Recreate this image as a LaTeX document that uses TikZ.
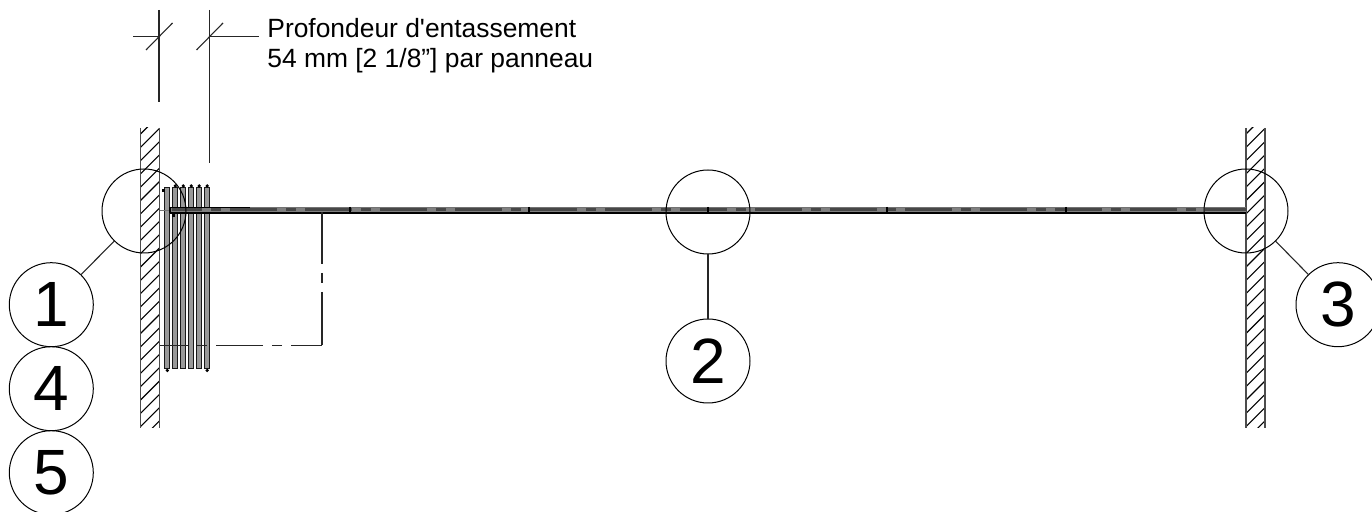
\documentclass[tikz,border=0pt]{standalone}
\usepackage{fontspec}
\setmainfont{Liberation Sans}
\newfontfamily\labelfont{Liberation Sans}
\usetikzlibrary{positioning}
\tikzset{
  bubble/.style={draw, circle, minimum size=42pt, inner sep=0pt, outer sep=0pt, line width=0.5pt, font=\fontsize{32}{32}\selectfont},
  detail/.style={draw, circle, minimum size=42pt, inner sep=0pt, outer sep=0pt, line width=0.5pt},
  thinline/.style={line width=0.55pt, black!85},
  swing/.style={line width=0.6pt, black!85},
  dimlabel/.style={anchor=base west, inner sep=0pt, font=\labelfont\fontsize{13.2}{15}\selectfont},
}
\begin{document}
\begin{tikzpicture}[x=0.5pt, y=-0.5pt]
  \useasboundingbox (0,0) rectangle (1372,512);
  % Parameters
  \def\wallw{19}
  \def\wtop{128}
  \def\wbot{428}
  \def\py{210.5}

  % --- Murs ---
  \foreach \wx in {140.5, 1246} {
      \begin{scope}
        \clip (\wx,\wtop) rectangle (\wx+\wallw,\wbot);
        \foreach \k in {0,...,24} {
            \draw[line width=0.55pt, black] (\wx,\wtop+6+13.3*\k) -- ++(\wallw,-\wallw);
          }
      \end{scope}
      \draw[line width=0.6pt, black!70] (\wx,\wtop) -- (\wx,\wbot) (\wx+\wallw,\wtop) -- (\wx+\wallw,\wbot);
    }

  % --- Panneaux entasses ---
  \foreach \x in {167.3, 175.3, 183.3, 191.3, 199.2, 207.2} {
      \draw[line width=0.5pt, black!90, fill=black!40] (\x-2.6,187.5) rectangle (\x+2.6,368.5);
    }
  \foreach \x in {175.3, 183.3, 191.3, 199.2, 207.2} {
      \fill (\x,186) circle (1.8);
    }
  \fill (167.3,370.5) circle (1.8);
  \fill (207.2,370.5) circle (1.8);
  \fill (162,189) rectangle (165,192);
  \fill (172,214) rectangle (175,217);

  % --- Panneaux fermes ---
  \draw[line width=0.6pt, black!55] (159.5,\py) -- (170,\py);
  \fill[black!50] (170,207.5) rectangle (1246,213);
  \draw[line width=0.6pt, black!55] (170,207.5) -- (1246,207.5);
  \draw[line width=1pt, black] (170,213) -- (1246,213);
  \draw[line width=0.7pt, black] (250,207.5) -- (170,207.5) -- (170,213);
  \draw[line width=1.5pt, black!72, dash pattern=on 23.5pt off 4.5pt on 5pt off 4.5pt, dash phase=8.5pt] (172,210) -- (1246,210);
  \foreach \x in {350, 529, 708, 887, 1066} {
      \draw[line width=0.9pt, black] (\x,207) -- (\x,214);
    }

  % --- Debattement ---
  \coordinate (swingtop) at (322,212);
  \coordinate (corner) at (322,345.5);
  \coordinate (swingend) at (159.5,345.5);
  \draw[swing, dash pattern=on 26pt off 4.5pt on 5pt off 4.5pt on 100pt] (swingtop) -- (corner);
  \draw[swing, dash pattern=on 15.5pt off 4.5pt on 5pt off 4.5pt on 23.5pt off 4.5pt on 5pt off 4.5pt on 100pt] (corner) -- (swingend);

  % --- Cotes ---
  \coordinate (dimtop1) at (159,10);
  \coordinate (dimbot1) at (159,102);
  \coordinate (dimtop2) at (209.5,10);
  \coordinate (dimbot2) at (209.5,163);
  \coordinate (dimend1) at (133,36.5);
  \coordinate (dimend2) at (259,36.5);
  \draw[thinline] (dimtop1) -- (dimbot1);
  \draw[thinline] (dimtop2) -- (dimbot2);
  \draw[thinline] (dimend1) -- (dimtop1 |- dimend1);
  \draw[thinline] (dimtop2 |- dimend2) -- (dimend2);
  \draw[thinline] (146,50) -- (172.5,23);
  \draw[thinline] (196.5,50) -- (223,23);
  \node[dimlabel] (dimtextA) at (267,38) {Profondeur d'entassement};
  \node[dimlabel] (dimtextB) at (267,68) {54 mm [2 1/8”] par panneau};

  % --- Reperes ---
  \node[detail] (detailA) at (144,211) {};
  \node[detail] (detailB) at (708,212) {};
  \node[detail] (detailC) at (1246,211) {};
  \node[bubble] (bubbleA) at (51.3,304.7) {1};
  \node[bubble] (bubbleD) at (51.3,388.7) {4};
  \node[bubble] (bubbleE) at (51.3,472.7) {5};
  \node[bubble] (bubbleB) at (708,361) {2};
  \node[bubble] (bubbleC) at (1338,304.7) {3};
  \draw[thinline] (detailA) -- (bubbleA);
  \draw[thinline] (detailB) -- (bubbleB);
  \draw[thinline] (detailC) -- (bubbleC);
\end{tikzpicture}
\end{document}
